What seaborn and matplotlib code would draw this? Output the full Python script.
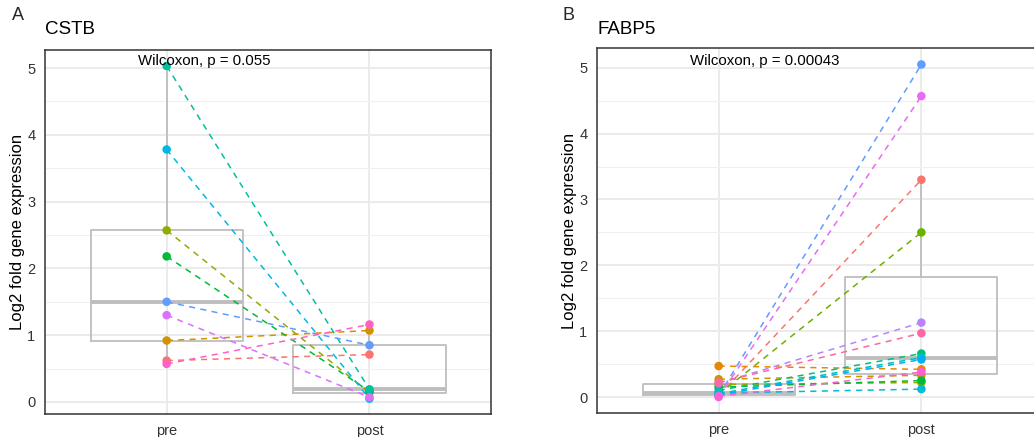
import numpy as np
import pandas as pd
import matplotlib
matplotlib.use("Agg")
import matplotlib.pyplot as plt
from matplotlib.ticker import MultipleLocator
import seaborn as sns

# ---------------- data ----------------
times = ["pre", "post"]

cstb_colors = ["#F8766D", "#D39200", "#93AA00", "#00BA38", "#00C19F",
               "#00B9E3", "#619CFF", "#DB72FB", "#FF61C3"]
cstb_pre = [0.62, 0.92, 2.57, 2.18, 5.03, 3.78, 1.50, 1.30, 0.57]
cstb_post = [0.71, 1.07, 0.14, 0.16, 0.19, 0.05, 0.85, 0.07, 1.16]

fabp5_colors = ["#F8766D", "#E58700", "#C99800", "#A3A500", "#6BB100",
                "#00BA38", "#00BF7D", "#00C0AF", "#00BCD8", "#00B0F6",
                "#619CFF", "#B983FF", "#E76BF3", "#FD61D1", "#FF67A4"]
fabp5_pre = [0.02, 0.47, 0.27, 0.19, 0.04, 0.15, 0.10, 0.05, 0.06, 0.03,
             0.02, 0.21, 0.00, 0.01, 0.22]
fabp5_post = [3.30, 0.42, 0.33, 0.22, 2.50, 0.25, 0.66, 0.60, 0.12, 0.57,
              5.05, 1.13, 4.57, 0.38, 0.97]

panels = [
    dict(letter="A", gene="CSTB", pre=cstb_pre, post=cstb_post,
         colors=cstb_colors, p="Wilcoxon, p = 0.055",
         rect=[0.0435, 0.0526, 0.4315, 0.833], ylim=(-0.18, 5.27)),
    dict(letter="B", gene="FABP5", pre=fabp5_pre, post=fabp5_post,
         colors=fabp5_colors, p="Wilcoxon, p = 0.00043",
         rect=[0.5774, 0.0549, 0.4313, 0.8352], ylim=(-0.243, 5.30)),
]

# ---------------- style ----------------
sns.set_style("white")
plt.rcParams["font.family"] = ["Liberation Sans", "DejaVu Sans"]

fig = plt.figure(figsize=(10.34, 4.37), dpi=100)
fig.patch.set_facecolor("white")

for pn in panels:
    n = len(pn["pre"])
    subj = [f"S{i+1}" for i in range(n)]
    df = pd.DataFrame({
        "subject": subj * 2,
        "time": ["pre"] * n + ["post"] * n,
        "value": list(pn["pre"]) + list(pn["post"]),
    })
    df["pos"] = df["time"].map({t: i for i, t in enumerate(times)})
    pal = dict(zip(subj, pn["colors"]))

    ax = fig.add_axes(pn["rect"])
    ax.set_facecolor("white")

    sns.boxplot(data=df, x="time", y="value", order=times, ax=ax,
                width=0.75, fill=False, color="#BEBEBE", showfliers=False,
                linewidth=1.3, showcaps=False,
                medianprops=dict(color="#BEBEBE", linewidth=2.8),
                zorder=2)

    sns.lineplot(data=df, x="pos", y="value", hue="subject", palette=pal,
                 units="subject", estimator=None, legend=False, ax=ax,
                 linewidth=1.1, linestyle=(0, (4, 3.5)), zorder=3)

    sns.scatterplot(data=df, x="pos", y="value", hue="subject", palette=pal,
                    legend=False, ax=ax, s=38, edgecolor="none", zorder=4)

    ax.set_xlim(-0.6, 1.6)
    ax.set_ylim(*pn["ylim"])
    ax.set_xticks(range(len(times)))
    ax.set_xticklabels(times)
    ax.yaxis.set_major_locator(MultipleLocator(1))
    ax.yaxis.set_minor_locator(MultipleLocator(0.5))

    ax.grid(True, which="major", color="#EBEBEB", linewidth=1.4, zorder=0)
    ax.grid(True, which="minor", axis="y", color="#F0F0F0", linewidth=0.8, zorder=0)
    ax.set_axisbelow(True)

    for sp in ax.spines.values():
        sp.set_color("#333333")
        sp.set_linewidth(1.1)
        sp.set_visible(True)

    ax.tick_params(axis="both", which="major", length=4, width=1.1,
                   color="#333333", labelsize=10.5, labelcolor="#333333",
                   direction="out", pad=3)
    ax.tick_params(axis="both", which="minor", length=0)

    ax.set_xlabel("")
    ax.set_ylabel("Log2 fold gene expression", fontsize=12, color="black",
                  labelpad=1.5)

    ax.text(-0.14, 5.11, pn["p"], fontsize=10.8, ha="left", va="center",
            color="black", zorder=5)

    # panel title
    x0 = pn["rect"][0]
    fig.text(x0, 1 - 30 / 437, pn["gene"], fontsize=13.5, ha="left",
             va="center", color="black")

fig.text(12 / 1034, 1 - 16 / 437, "A", fontsize=13, ha="left", va="center")
fig.text(562 / 1034, 1 - 16 / 437, "B", fontsize=13, ha="left", va="center")

fig.savefig("out.png", dpi=100, facecolor="white")
